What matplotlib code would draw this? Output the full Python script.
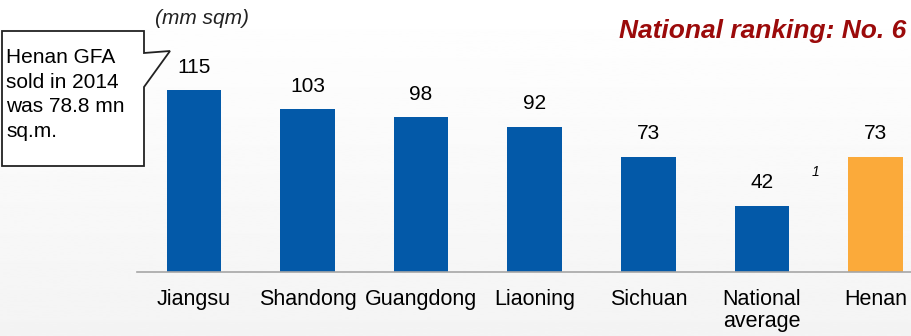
import numpy as np
import matplotlib.pyplot as plt
from matplotlib.patches import Polygon

plt.rcParams['font.family'] = ['Liberation Sans', 'DejaVu Sans']

regions = ["Jiangsu", "Shandong", "Guangdong", "Liaoning", "Sichuan", "National\naverage", "Henan"]
gfa_sold = [115, 103, 98, 92, 73, 42, 73]
highlight = "Henan"
note_lines = ["Henan GFA", "sold in 2014", "was 78.8 mn", "sq.m."]

blue = "#0359A8"
orange = "#FBAA3A"
colors = [orange if r == highlight else blue for r in regions]

W, H = 912, 336
fig = plt.figure(figsize=(W / 100, H / 100), dpi=100)

# soft background gradient
bg = fig.add_axes([0, 0, 1, 1], zorder=-1)
grad = np.linspace(1.0, 0.955, 200).reshape(-1, 1)
bg.imshow(grad, aspect="auto", cmap="gray", vmin=0, vmax=1, extent=[0, 1, 0, 1])
bg.axis("off")

ax = fig.add_axes([137 / W, (H - 272) / H, 1 - 137 / W, 272 / H])
ax.patch.set_alpha(0)
x = np.arange(len(regions))
bars = ax.bar(x, gfa_sold, width=0.48, color=colors)
for xi, v in zip(x, gfa_sold):
    ax.annotate(f"{v}", (xi, v), xytext=(0, 9.5), textcoords="offset points",
                ha="center", va="bottom", fontsize=15)

ax.set_xlim(-0.5, 6.32)
ax.set_ylim(0, 172)
ax.set_xticks(x)
ax.set_xticklabels(regions, fontsize=15.5, linespacing=1.08)
ax.tick_params(axis="x", length=0, pad=12)
ax.set_yticks([])
for s in ["top", "right", "left"]:
    ax.spines[s].set_visible(False)
ax.spines["bottom"].set_color("#a6a6a6")
ax.spines["bottom"].set_linewidth(1.2)

# overlay in pixel coords for annotations
ov = fig.add_axes([0, 0, 1, 1], zorder=5)
ov.set_xlim(0, W)
ov.set_ylim(H, 0)
ov.axis("off")
ov.patch.set_alpha(0)

ov.text(155, 24, "(mm sqm)", fontsize=15, style="italic", color="#222222", va="baseline")
ov.text(906, 38, "National ranking: No. 6", fontsize=19, style="italic",
        weight="bold", color="#9B0A0A", ha="right", va="baseline")
ov.text(816, 172, "1", fontsize=10, style="italic", ha="center", va="center")

callout = Polygon([(2, 31), (144, 31), (144, 53), (170, 51), (144, 87),
                   (144, 166), (2, 166)], closed=True, facecolor="white",
                  edgecolor="#222222", linewidth=1.3)
ov.add_patch(callout)
for i, line in enumerate(note_lines):
    ov.text(6, 63 + 24.7 * i, line, fontsize=15, va="baseline", ha="left")

fig.savefig("out.png", dpi=100)
